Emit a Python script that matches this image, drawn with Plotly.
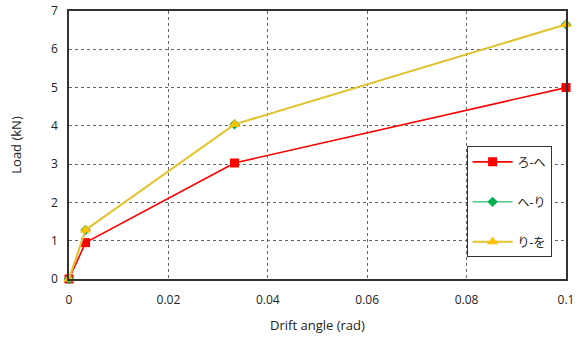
import plotly.graph_objects as go

# Drift angle (rad) and load (kN) for each segment
drift = [0, 0.00333, 0.0333, 0.1]
load_ro_he = [0, 0.95, 3.03, 5.0]
load_he_ri = [0, 1.28, 4.04, 6.65]
load_ri_wo = [0, 1.28, 4.04, 6.65]

series = [
    ("ろ-へ", load_ro_he, "#FF0000", "#FF0000", "square", 9, 1.6),
    ("へ-り", load_he_ri, "#00B050", "#00B050", "diamond", 8, 1.0),
    ("り-を", load_ri_wo, "#E6C22C", "#FFC000", "triangle-up", 10, 2.0),
]

fig = go.Figure()
for i, (name, vals, lc, mc, sym, sz, lw) in enumerate(series):
    fig.add_trace(go.Scatter(
        x=drift, y=vals, name=name, mode="lines+markers",
        line=dict(color=lc, width=lw),
        marker=dict(symbol=sym, size=sz, color=mc),
        legendgroup=f"g{i}",
        cliponaxis=False,
    ))

font_main = "Open Sans, Noto Sans CJK JP, sans-serif"
axis_common = dict(
    showline=True, linecolor="#333333", linewidth=1.5, mirror=True,
    showgrid=True, gridcolor="#666666", griddash="dot", gridwidth=1.2,
    zeroline=False, ticks="outside", tickcolor="rgba(0,0,0,0)",
    automargin=False,
    tickfont=dict(family=font_main, size=12, color="#222222"),
    title_font=dict(family=font_main, size=13, color="#222222"),
)

fig.update_xaxes(range=[0, 0.1], tickvals=[0, 0.02, 0.04, 0.06, 0.08, 0.1],
                 ticktext=["0", "0.02", "0.04", "0.06", "0.08", "0.1"],
                 ticklen=9, title_text="Drift angle (rad)", title_standoff=14,
                 **axis_common)
fig.update_yaxes(range=[0, 7], dtick=1, ticklen=7, title_text="Load (kN)",
                 title_standoff=26, **axis_common)

fig.update_layout(
    width=583, height=343,
    margin=dict(l=69, r=17, t=11, b=64),
    paper_bgcolor="white", plot_bgcolor="white",
    showlegend=True,
    legend=dict(
        x=0.80, y=0.495, xanchor="left", yanchor="top",
        bgcolor="white", bordercolor="#333333", borderwidth=1,
        font=dict(family=font_main, size=12, color="#222222"),
        tracegroupgap=21, itemwidth=40,
    ),
)

fig.write_html("out.html")
